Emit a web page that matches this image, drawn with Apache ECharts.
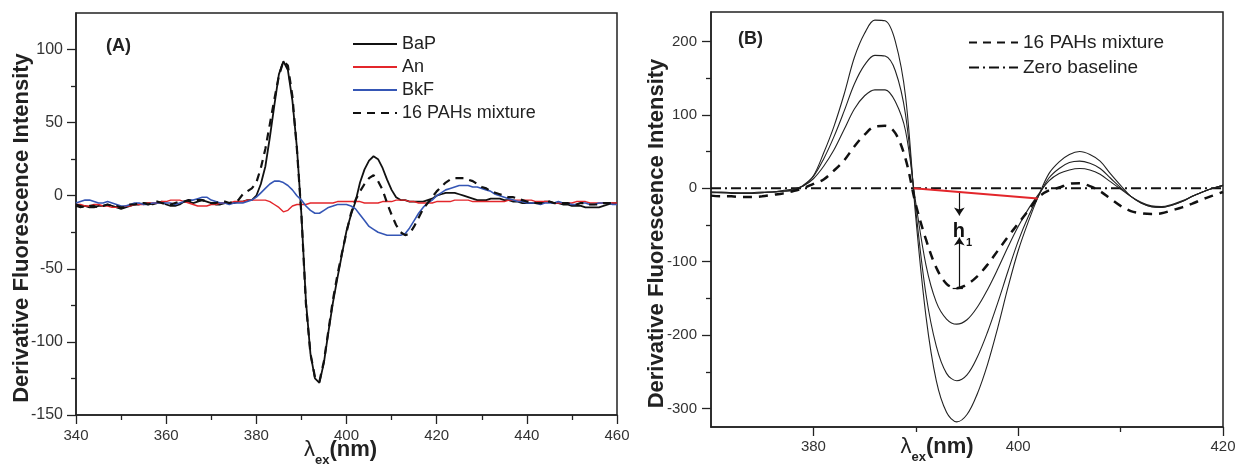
<!DOCTYPE html>
<html><head><meta charset="utf-8">
<script src="https://cdn.jsdelivr.net/npm/echarts@6/dist/echarts.min.js"></script>
<style>html,body{margin:0;padding:0;background:#fff}#c{width:1236px;height:467px}</style>
</head><body><div id="c"></div>
<script>
// ---------- Panel A data ----------
const wavelengthA = [340,341,342,343,344,345,346,347,348,349,350,351,352,353,354,355,356,357,358,359,360,361,362,363,364,365,366,367,368,369,370,371,372,373,374,375,376,377,378,379,380,381,382,383,384,385,386,387,388,389,390,391,392,393,394,395,396,397,398,399,400,401,402,403,404,405,406,407,408,409,410,411,412,413,414,415,416,417,418,419,420,421,422,423,424,425,426,427,428,429,430,431,432,433,434,435,436,437,438,439,440,441,442,443,444,445,446,447,448,449,450,451,452,453,454,455,456,457,458,459,460];
const bapA = [-7,-8,-7,-8,-8,-7,-7,-6,-7,-8,-9,-8,-7,-6,-6,-5,-5,-6,-5,-4,-6,-7,-7,-6,-4,-4,-5,-4,-3,-4,-5,-6,-6,-5,-5,-5,-4,-4,-3,-3,0,8,20,40,62,83,92,86,65,33,-13,-72,-108,-125,-128,-114,-93,-73,-56,-40,-24,-13,-4,9,18,24,27,25,19,11,4,-1,-3,-3,-4,-4,-4,-4,-3,-2,0,1,2,2,2,1,0,-1,-2,-3,-3,-3,-2,-2,-2,-3,-3,-4,-4,-5,-5,-5,-5,-5,-4,-4,-5,-5,-6,-6,-7,-7,-7,-8,-8,-8,-8,-7,-6,-5,-5];
const anA = [-6,-6,-7,-7,-6,-6,-7,-7,-8,-8,-8,-7,-7,-6,-6,-6,-5,-5,-5,-4,-4,-3,-3,-3,-4,-5,-6,-7,-7,-7,-6,-6,-5,-5,-5,-4,-4,-4,-3,-3,-3,-3,-3,-4,-6,-8,-11,-10,-7,-6,-6,-6,-5,-5,-5,-5,-5,-5,-4,-4,-4,-4,-4,-4,-5,-5,-5,-5,-4,-4,-4,-3,-3,-3,-4,-4,-5,-5,-5,-5,-4,-4,-4,-4,-3,-3,-3,-3,-4,-4,-4,-4,-4,-4,-4,-4,-3,-3,-3,-3,-3,-3,-4,-4,-4,-4,-5,-5,-5,-5,-5,-4,-4,-4,-5,-5,-5,-5,-5,-5,-5];
const bkfA = [-5,-4,-3,-3,-4,-5,-5,-4,-5,-6,-7,-7,-6,-5,-5,-6,-6,-5,-5,-5,-5,-5,-6,-5,-4,-3,-3,-2,-1,-1,-3,-4,-5,-5,-6,-5,-5,-5,-4,-3,-1,2,5,8,10,10,9,7,4,0,-3,-7,-10,-12,-12,-10,-8,-7,-6,-6,-6,-7,-9,-13,-17,-21,-23,-25,-26,-27,-27,-27,-27,-26,-22,-17,-12,-8,-5,-3,0,2,4,5,6,7,7,7,6,6,5,4,3,1,0,-1,-2,-3,-4,-4,-5,-5,-5,-6,-5,-5,-5,-4,-5,-5,-6,-6,-5,-5,-6,-6,-5,-5,-5,-6,-6];
const mixtureA = [-6,-7,-8,-7,-7,-8,-7,-6,-7,-7,-8,-8,-6,-6,-5,-5,-6,-5,-4,-5,-6,-6,-5,-4,-4,-3,-4,-3,-3,-4,-5,-5,-4,-4,-5,-4,-3,1,3,5,9,19,32,49,66,82,92,89,68,32,-13,-74,-108,-124,-127,-113,-92,-71,-54,-39,-25,-12,-3,3,8,12,14,10,4,-5,-13,-20,-25,-27,-26,-21,-15,-9,-5,-1,3,6,9,11,12,12,12,11,10,8,6,5,3,2,1,0,-1,-1,-2,-3,-4,-4,-5,-5,-5,-4,-5,-5,-5,-5,-6,-6,-5,-5,-6,-6,-6,-5,-5,-5,-5];

// ---------- Panel B data ----------
const wavelengthB = [370,371,372,373,374,375,376,377,378,379,380,381,382,383,384,385,386,387,388,389,390,391,392,393,394,395,396,397,398,399,400,401,402,403,404,405,406,407,408,409,410,411,412,413,414,415,416,417,418,419,420];
const curveB1 = [-5,-5,-6,-6,-6,-5,-5,-3,-1,3,13,30,52,80,108,126,134,134,118,78,-20,-105,-155,-178,-185,-179,-162,-138,-110,-80,-52,-28,-8,10,20,25,27,25,19,9,-1,-11,-19,-24,-25,-22,-17,-11,-5,0,4];
const curveB2 = [-5,-6,-6,-7,-7,-6,-5,-4,-2,3,16,40,70,105,142,168,181,180,160,100,-30,-145,-215,-252,-262,-254,-230,-196,-156,-113,-72,-38,-10,14,27,35,37,34,27,14,1,-11,-20,-25,-26,-23,-18,-11,-5,0,4];
const curveB3 = [-6,-6,-7,-7,-7,-6,-5,-4,-3,4,17,48,84,128,178,211,229,228,200,125,-40,-175,-262,-305,-318,-308,-280,-240,-190,-135,-85,-45,-10,20,36,46,50,46,37,20,4,-11,-20,-25,-26,-23,-18,-11,-5,0,4];
const mixtureB = [-10,-11,-11,-12,-12,-11,-9,-7,-4,0,6,12,24,38,57,73,84,85,75,40,-22,-70,-108,-130,-136,-131,-120,-104,-85,-66,-48,-30,-12,-3,1,6,7,3,-4,-14,-24,-31,-34,-35,-34,-30,-26,-21,-15,-10,-5];
const zeroLineX = [370, 420];
const zeroLineY = [0, 0];
const h1BaseX = [389.8, 401.9];
const h1BaseY = [0, -14];
const h1ArrowX = 394.25;
const h1ArrowDownY = [-4, -37];
const h1ArrowUpY = [-136, -67];
const h1FootX = [393.6, 394.6];
const h1LabelPos = [394.55, -63];

// ---------- Tick values ----------
const ticksAYMajor = [-150,-100,-50,0,50,100];
const ticksAYMinor = [-125,-75,-25,25,75];
const ticksBXMajor = [380,400,420];
const ticksBXMinor = [390,410];
const ticksBYMajor = [-300,-200,-100,0,100,200];
const ticksBYMinor = [-250,-150,-50,50,150];

const zip = (xs, ys) => xs.map((x, i) => [x, ys[i]]);
const FONT = "'Liberation Sans', Arial, sans-serif";
const AX = '#222';
const axLine = {show: true, onZero: false, lineStyle: {color: AX, width: 1.5}};
const noLine = {show: false, onZero: false};
const lbl = (m, fs) => ({color: '#333', fontSize: fs || 15, fontFamily: FONT, margin: m});
const xName = {
  rich: {
    l: {fontSize: 22, fontFamily: FONT, color: '#222', padding: [0, 0, 6, 0], verticalAlign: 'bottom'},
    e: {fontSize: 13, fontFamily: FONT, fontWeight: 'bold', color: '#222', verticalAlign: 'bottom'},
    n: {fontSize: 22, fontFamily: FONT, fontWeight: 'bold', color: '#222', padding: [0, 0, 6, 0], verticalAlign: 'bottom'}
  }
};
const yNameStyle = {fontSize: 22, fontWeight: 'bold', color: '#222', fontFamily: FONT, padding: [0, 28, 0, 0]};
const tickStyle = {color: AX, width: 1.3};

const chart = echarts.init(document.getElementById('c'), null, {renderer: 'canvas'});
const option = {
  animation: false,
  backgroundColor: '#fff',
  grid: [
    {left: 76, top: 13, right: 619, bottom: 52, show: true, borderColor: AX, borderWidth: 1.5, containLabel: false, outerBoundsMode: 'none'},
    {left: 711, top: 12, right: 13, bottom: 40, show: true, borderColor: AX, borderWidth: 1.5, containLabel: false, outerBoundsMode: 'none'}
  ],
  xAxis: [
    {type: 'value', gridIndex: 0, min: 340, max: 460, interval: 20, position: 'bottom',
     axisLine: axLine, axisTick: {show: true, inside: false, length: 9, lineStyle: tickStyle},
     minorTick: {show: true, splitNumber: 2, length: 5, lineStyle: tickStyle},
     splitLine: {show: false}, minorSplitLine: {show: false},
     axisLabel: lbl(13),
     name: '{l|λ}{e|ex}{n|(nm)}', nameLocation: 'middle', nameGap: 24, nameMoveOverlap: false,
     nameTextStyle: Object.assign({padding: [0, 12, 0, 0]}, xName)},
    {type: 'value', gridIndex: 1, min: 370, max: 420, position: 'bottom',
     axisLine: axLine, axisTick: {show: true, length: 9, customValues: ticksBXMajor, lineStyle: tickStyle},
     splitLine: {show: false},
     axisLabel: Object.assign(lbl(12), {customValues: ticksBXMajor}),
     name: '{l|λ}{e|ex}{n|(nm)}', nameLocation: 'middle', nameGap: 9, nameMoveOverlap: false,
     nameTextStyle: Object.assign({padding: [0, 60, 0, 0]}, xName)},
    {type: 'value', gridIndex: 1, min: 370, max: 420, position: 'bottom',
     axisLine: noLine, axisTick: {show: true, length: 5, customValues: ticksBXMinor, lineStyle: tickStyle},
     splitLine: {show: false}, axisLabel: {show: false}}
  ],
  yAxis: [
    {type: 'value', gridIndex: 0, min: -150, max: 125, position: 'left',
     axisLine: axLine, axisTick: {show: true, length: 9, customValues: ticksAYMajor, lineStyle: tickStyle},
     splitLine: {show: false},
     axisLabel: Object.assign(lbl(13, 16), {customValues: ticksAYMajor}),
     name: 'Derivative Fluorescence Intensity', nameLocation: 'middle', nameGap: 43, nameRotate: 90, nameMoveOverlap: false,
     nameTextStyle: yNameStyle},
    {type: 'value', gridIndex: 0, min: -150, max: 125, position: 'left',
     axisLine: noLine, axisTick: {show: true, length: 5, customValues: ticksAYMinor, lineStyle: tickStyle},
     splitLine: {show: false}, axisLabel: {show: false}},
    {type: 'value', gridIndex: 1, min: -325, max: 240, position: 'left',
     axisLine: axLine, axisTick: {show: true, length: 9, customValues: ticksBYMajor, lineStyle: tickStyle},
     splitLine: {show: false},
     axisLabel: Object.assign(lbl(14), {customValues: ticksBYMajor}),
     name: 'Derivative Fluorescence Intensity', nameLocation: 'middle', nameGap: 43, nameRotate: 90, nameMoveOverlap: false,
     nameTextStyle: yNameStyle},
    {type: 'value', gridIndex: 1, min: -325, max: 240, position: 'left',
     axisLine: noLine, axisTick: {show: true, length: 5, customValues: ticksBYMinor, lineStyle: tickStyle},
     splitLine: {show: false}, axisLabel: {show: false}}
  ],
  legend: [
    {left: 347, top: 30, orient: 'vertical', itemWidth: 44, itemHeight: 14, itemGap: 5,
     itemStyle: {opacity: 0},
     data: ['BaP', 'An', 'BkF', '16 PAHs mixture'],
     textStyle: {fontSize: 18, color: '#222', fontFamily: FONT}},
    {left: 963, top: 28, orient: 'vertical', itemWidth: 49, itemHeight: 14, itemGap: 6,
     itemStyle: {opacity: 0},
     data: ['16 PAHs mixture', 'Zero baseline'],
     textStyle: {fontSize: 19, color: '#222', fontFamily: FONT}}
  ],
  graphic: [
    {type: 'text', left: 106, top: 37, style: {text: '(A)', font: "bold 18px 'Liberation Sans', Arial, sans-serif", fill: '#222'}},
    {type: 'text', left: 738, top: 30, style: {text: '(B)', font: "bold 18px 'Liberation Sans', Arial, sans-serif", fill: '#222'}}
  ],
  series: [
    {name: 'BaP', type: 'line', xAxisIndex: 0, yAxisIndex: 0, data: zip(wavelengthA, bapA), showSymbol: false, symbol: 'none',
     lineStyle: {color: '#111', width: 1.8}, itemStyle: {color: '#111'}},
    {name: 'An', type: 'line', xAxisIndex: 0, yAxisIndex: 0, data: zip(wavelengthA, anA), showSymbol: false, symbol: 'none',
     lineStyle: {color: '#e3262b', width: 1.4}, itemStyle: {color: '#e3262b'}},
    {name: 'BkF', type: 'line', xAxisIndex: 0, yAxisIndex: 0, data: zip(wavelengthA, bkfA), showSymbol: false, symbol: 'none',
     lineStyle: {color: '#3556b5', width: 1.6}, itemStyle: {color: '#3556b5'}},
    {name: '16 PAHs mixture', type: 'line', xAxisIndex: 0, yAxisIndex: 0, data: zip(wavelengthA, mixtureA), showSymbol: false, symbol: 'none',
     lineStyle: {color: '#111', width: 2.2, type: [8, 6]}, itemStyle: {color: '#111'}},

    {name: 'Zero baseline', type: 'line', xAxisIndex: 1, yAxisIndex: 2, data: zip(zeroLineX, zeroLineY), showSymbol: false, symbol: 'none',
     lineStyle: {color: '#111', width: 2, type: [10, 4, 2, 4]}, itemStyle: {color: '#111'}},
    {name: 'curve 1', type: 'line', xAxisIndex: 1, yAxisIndex: 2, data: zip(wavelengthB, curveB1), showSymbol: false, symbol: 'none', smooth: 0.35,
     lineStyle: {color: '#222', width: 1.1}, itemStyle: {color: '#222'}},
    {name: 'curve 2', type: 'line', xAxisIndex: 1, yAxisIndex: 2, data: zip(wavelengthB, curveB2), showSymbol: false, symbol: 'none', smooth: 0.35,
     lineStyle: {color: '#222', width: 1.1}, itemStyle: {color: '#222'}},
    {name: 'curve 3', type: 'line', xAxisIndex: 1, yAxisIndex: 2, data: zip(wavelengthB, curveB3), showSymbol: false, symbol: 'none', smooth: 0.35,
     lineStyle: {color: '#222', width: 1.1}, itemStyle: {color: '#222'}},
    {name: '16 PAHs mixture', type: 'line', xAxisIndex: 1, yAxisIndex: 2, data: zip(wavelengthB, mixtureB), showSymbol: false, symbol: 'none', smooth: 0.35,
     lineStyle: {color: '#111', width: 2.5, type: [9, 7]}, itemStyle: {color: '#111'}},
    {name: 'h1 baseline', type: 'line', xAxisIndex: 1, yAxisIndex: 2, data: zip(h1BaseX, h1BaseY), showSymbol: false, symbol: 'none',
     lineStyle: {color: '#e3262b', width: 2}, itemStyle: {color: '#e3262b'}, z: 5,
     markLine: {
       silent: true, animation: false, symbolSize: 8,
       label: {show: false},
       lineStyle: {color: '#111', width: 1.2, type: 'solid'},
       data: [
         [{coord: [h1ArrowX, h1ArrowDownY[0]], symbol: 'none'}, {coord: [h1ArrowX, h1ArrowDownY[1]], symbol: 'arrow'}],
         [{coord: [h1ArrowX, h1ArrowUpY[0]], symbol: 'none'}, {coord: [h1ArrowX, h1ArrowUpY[1]], symbol: 'arrow'}],
         [{coord: [h1FootX[0], h1ArrowUpY[0]], symbol: 'none'}, {coord: [h1FootX[1], h1ArrowUpY[0]], symbol: 'none'}]
       ]
     },
     markPoint: {
       silent: true, symbol: 'circle', symbolSize: 0,
       label: {show: true, position: 'inside', formatter: '{h|h}{s|1}',
         rich: {h: {fontSize: 20, fontWeight: 'bold', color: '#111', fontFamily: FONT, padding: [0, 1, 7, 0], verticalAlign: 'bottom'},
                s: {fontSize: 11, fontWeight: 'bold', color: '#111', fontFamily: FONT, verticalAlign: 'bottom'}}},
       data: [{coord: h1LabelPos}]
     }}
  ]
};
chart.setOption(option);
</script>
</body></html>
